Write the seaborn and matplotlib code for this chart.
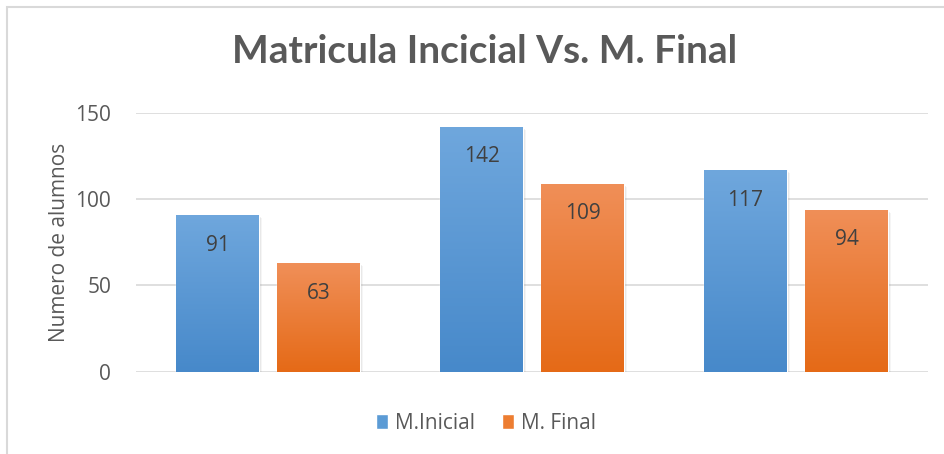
import numpy as np
import pandas as pd
import seaborn as sns
import matplotlib
matplotlib.use('Agg')
import matplotlib.pyplot as plt
from matplotlib.patches import Rectangle
from matplotlib.colors import LinearSegmentedColormap

# data
grupos = ["G1", "G2", "G3"]
series = ["M.Inicial", "M. Final"]
inicial = [91, 142, 117]
final = [63, 109, 94]

df = pd.DataFrame({
    "grupo": grupos * 2,
    "serie": [series[0]] * 3 + [series[1]] * 3,
    "valor": inicial + final,
})

# gradient colours (top -> bottom)
grad = {
    series[0]: ("#6FA7DD", "#4789CA"),
    series[1]: ("#F08F58", "#E56A17"),
}
flat = {series[0]: "#5B9BD5", series[1]: "#ED7D31"}

sns.set_theme(style="white")
plt.rcParams['font.family'] = ['Open Sans', 'DejaVu Sans']
txt = "#595959"

fig = plt.figure(figsize=(9.45, 4.54), dpi=100)
ax = fig.add_axes([0.144, 0.181, 0.838, 0.5705])

sns.barplot(data=df, x="grupo", y="valor", hue="serie", palette=flat,
            width=0.765, gap=0.18, ax=ax, legend=False, errorbar=None,
            saturation=1)

ax.set_ylim(0, 150)
ax.set_yticks([0, 50, 100, 150])
ax.set_xlim(-0.5, 2.5)
ax.yaxis.grid(True, color="#D9D9D9", linewidth=1.2)
ax.set_axisbelow(True)
for s in ax.spines.values():
    s.set_visible(False)
ax.set_xticks([])
ax.set_xlabel("")
ax.set_ylabel("Numero de alumnos", fontsize=15, color=txt, labelpad=4)
ax.tick_params(axis="y", labelsize=15, colors=txt, length=0, pad=18)

# gradient fill + soft shadow + label per bar
bars = list(ax.patches)
vals = inicial + final
names = [series[0]] * 3 + [series[1]] * 3
for p, v, n in zip(bars, vals, names):
    x0, w, h = p.get_x(), p.get_width(), p.get_height()
    for k, a in enumerate([0.10, 0.07, 0.04]):
        d = 0.004 * (k + 1)
        ax.add_patch(Rectangle((x0 + d, -0.6 * (k + 1)), w, h,
                               facecolor="#000000", alpha=a, zorder=1.5,
                               linewidth=0))
    cmap = LinearSegmentedColormap.from_list("g", [grad[n][1], grad[n][0]])
    img = ax.imshow(np.linspace(0, 1, 100).reshape(-1, 1), cmap=cmap,
                    extent=[x0, x0 + w, 0, h], origin="lower", aspect="auto",
                    zorder=2.5)
    img.set_clip_path(p)
    p.set_zorder(2)
    ax.text(x0 + w / 2, h - 11.5, str(v), ha="center", va="top",
            fontsize=15, color="#404040", zorder=3)
ax.set_xlim(-0.5, 2.5)
ax.set_ylim(0, 150)

# title
fig.text(0.513, 0.886, "Matricula Incicial Vs. M. Final", ha="center",
         va="center", fontsize=28, fontweight="bold", color=txt,
         family=['Lato', 'DejaVu Sans'])

# legend
handles = [Rectangle((0, 0), 1, 1, facecolor=flat[s]) for s in series]
fig.legend(handles, series, loc="center", bbox_to_anchor=(0.514, 0.067),
           ncol=2, frameon=False, fontsize=15, handlelength=0.6,
           handleheight=0.7, handletextpad=0.3, columnspacing=1.3,
           labelcolor=txt)

# chart border
fig.patches.append(Rectangle((7 / 945, -0.05), 1.1, 1 - 7 / 454 + 0.05,
                             transform=fig.transFigure, fill=False,
                             edgecolor="#D9D9D9", linewidth=1.5))

fig.savefig("out.png", dpi=100)
